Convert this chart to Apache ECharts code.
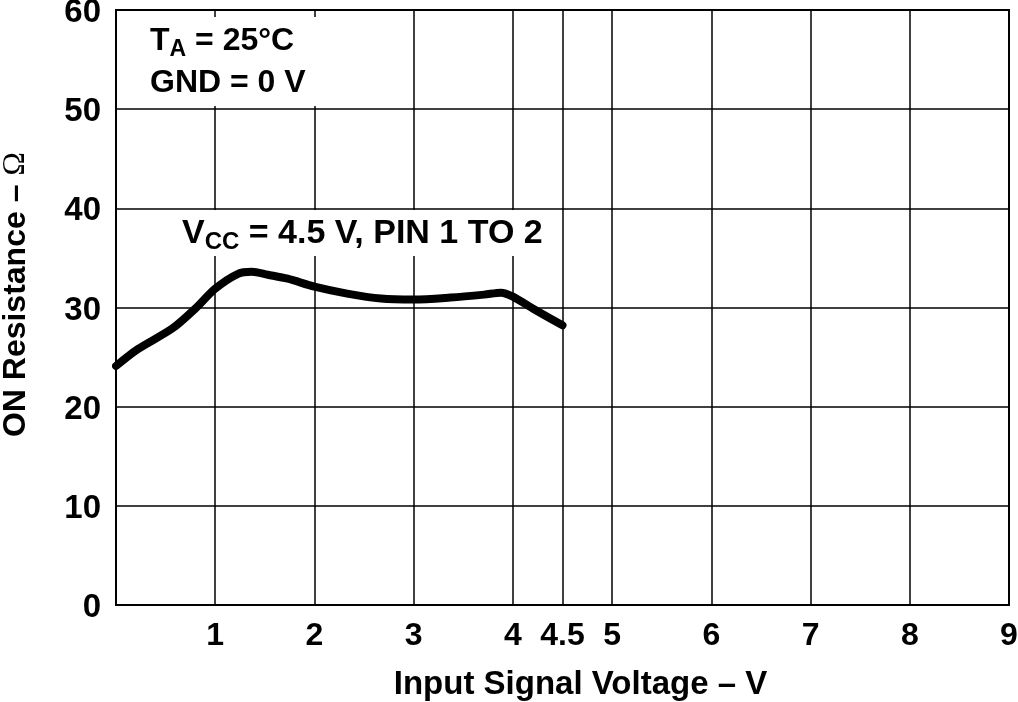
<!DOCTYPE html>
<html>
<head>
<meta charset="utf-8">
<script src="https://cdn.jsdelivr.net/npm/echarts@6/dist/echarts.min.js"></script>
<style>html,body{margin:0;padding:0;background:#fff}#c{width:1018px;height:702px}</style>
</head>
<body>
<div id="c"></div>
<script>
var xTicks = [1, 2, 3, 4, 4.5, 5, 6, 7, 8, 9];
var yTicks = [0, 10, 20, 30, 40, 50, 60];
var voltage = [0, 0.22, 0.57, 0.8, 1.0, 1.23, 1.37, 1.53, 1.73, 2.0, 2.33, 2.67, 3.0, 3.37, 3.71, 3.88, 4.0, 4.2, 4.5];
var resistance = [24.1, 25.8, 27.9, 29.9, 31.9, 33.4, 33.6, 33.3, 32.9, 32.1, 31.4, 30.9, 30.8, 31.0, 31.3, 31.5, 31.1, 29.9, 28.2];

var FONT = '"Liberation Sans", Arial, Helvetica, sans-serif';
var chart = echarts.init(document.getElementById('c'));
var pts = voltage.map(function (v, i) { return [v, resistance[i]]; });

chart.setOption({
  animation: false,
  backgroundColor: '#fff',
  grid: { left: 116, right: 9, top: 10, bottom: 97, outerBoundsMode: 'none', containLabel: false,
          show: true, borderColor: '#000', borderWidth: 2, backgroundColor: 'transparent' },
  xAxis: {
    type: 'value', min: 0, max: 9,
    axisLine: { show: false },
    axisTick: { show: false },
    splitLine: { show: false },
    axisLabel: { customValues: xTicks, color: '#000', fontFamily: FONT, fontWeight: 'bold', fontSize: 32, margin: 15 },
    name: 'Input Signal Voltage \u2013 V', nameLocation: 'middle', nameGap: 63,
    nameTextStyle: { color: '#000', fontFamily: FONT, fontWeight: 'bold', fontSize: 33, padding: [0, 0, 0, 36] }
  },
  yAxis: {
    type: 'value', min: 0, max: 60, interval: 10,
    axisLine: { show: false },
    axisTick: { show: false },
    splitLine: { show: true, lineStyle: { color: '#000', width: 1.5 } },
    axisLabel: { customValues: yTicks, color: '#000', margin: 15,
      formatter: '{v|{value}}',
      rich: { v: { fontFamily: FONT, fontWeight: 'bold', fontSize: 33, color: '#000', padding: [6, 0, 0, 0] } } },
    name: 'ON Resistance \u2013 {o|\u03A9}', nameLocation: 'middle', nameGap: 84,
    nameTextStyle: { color: '#000', fontFamily: FONT, fontWeight: 'bold', fontSize: 32, padding: [0, 0, 0, 26],
      rich: { o: { fontFamily: '"Liberation Serif", "Times New Roman", serif', fontWeight: 'normal', fontSize: 32, color: '#000' } } }
  },
  series: [{
    type: 'line',
    data: pts,
    smooth: 0.3,
    symbol: 'none',
    lineStyle: { color: '#000', width: 8, cap: 'round', join: 'round' },
    z: 5,
    markLine: {
      silent: true,
      symbol: 'none',
      label: { show: false },
      lineStyle: { color: '#000', width: 1.5, type: 'solid' },
      data: xTicks.filter(function (v) { return v < 9; }).map(function (v) { return { xAxis: v }; })
    }
  }],
  graphic: [
    { type: 'rect', z: 100, shape: { x: 118, y: 17, width: 214, height: 89 }, style: { fill: '#fff' } },
    { type: 'rect', z: 100, shape: { x: 172, y: 210, width: 374, height: 46 }, style: { fill: '#fff' } },
    { type: 'text', z: 101, left: 150, top: 22, style: {
      text: '{m|T}{s|A}{m| = 25°C}\n{m|GND = 0 V}',
      rich: {
        m: { fontFamily: FONT, fontWeight: 'bold', fontSize: 32, lineHeight: 42, fill: '#000' },
        s: { fontFamily: FONT, fontWeight: 'bold', fontSize: 23, lineHeight: 42, padding: [16, 0, 0, 0], fill: '#000' }
      }
    } },
    { type: 'text', z: 101, left: 182, top: 214, style: {
      text: '{m|V}{s|CC}{m| = 4.5 V, PIN 1 TO 2}',
      rich: {
        m: { fontFamily: FONT, fontWeight: 'bold', fontSize: 34, lineHeight: 40, fill: '#000' },
        s: { fontFamily: FONT, fontWeight: 'bold', fontSize: 24, lineHeight: 40, padding: [16, 0, 0, 0], fill: '#000' }
      }
    } }
  ]
});
</script>
</body>
</html>
